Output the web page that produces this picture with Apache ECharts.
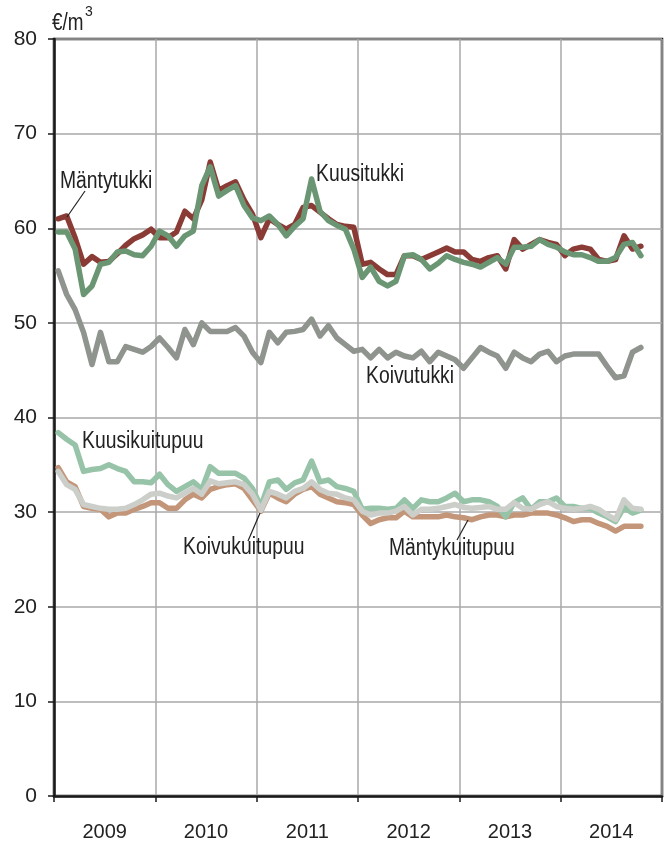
<!DOCTYPE html>
<html><head><meta charset="utf-8">
<script src="https://cdn.jsdelivr.net/npm/echarts@6/dist/echarts.min.js"></script>
<style>html,body{margin:0;padding:0;background:#fff}#c{width:667px;height:843px}</style>
</head><body><div id="c"></div>
<script>
// Years (category labels), monthly data Jan 2009 – Oct 2014
const years = ['2009','2010','2011','2012','2013','2014'];
const seriesNames = ['Mäntytukki','Kuusitukki','Koivutukki','Mäntykuitupuu','Kuusikuitupuu','Koivukuitupuu'];

const mantytukki = [61.0,61.3,59.0,56.2,57.0,56.4,56.5,57.3,58.2,58.9,59.3,59.9,
  59.0,59.0,59.6,61.8,61.0,63.0,67.0,64.0,64.5,64.9,63.0,61.5,
  59.0,61.0,60.4,59.9,60.4,62.2,62.4,61.7,61.0,60.4,60.2,60.1,
  56.2,56.4,55.7,55.1,55.1,57.1,57.1,56.7,57.1,57.5,57.9,57.5,
  57.5,56.7,56.5,56.9,57.1,55.7,58.8,57.8,58.3,58.8,58.5,58.3,
  57.1,57.8,58.0,57.8,56.7,56.5,56.7,59.2,57.8,58.1];

const kuusitukki = [59.6,59.6,57.8,53.0,53.9,56.2,56.4,57.5,57.6,57.2,57.1,58.1,
  59.7,59.2,58.1,59.2,59.7,64.5,66.5,63.4,64.0,64.5,62.4,61.1,
  60.8,61.3,60.4,59.2,60.2,61.0,65.2,61.8,60.8,60.3,59.9,57.8,
  54.8,55.9,54.4,53.9,54.4,57.1,57.2,56.7,55.7,56.3,57.1,56.7,
  56.4,56.2,55.9,56.4,56.9,56.2,58.0,58.0,58.1,58.8,58.3,58.0,
  57.5,57.2,57.2,56.9,56.5,56.5,56.9,58.3,58.5,57.1];

const koivutukki = [55.5,53.0,51.4,49.0,45.6,49.0,45.9,45.9,47.5,47.2,46.9,47.5,
  48.4,47.4,46.3,49.3,47.7,50.0,49.1,49.1,49.1,49.5,48.6,46.9,
  45.8,49.0,47.9,49.0,49.1,49.3,50.4,48.6,49.7,48.4,47.7,47.0,
  47.2,46.3,47.2,46.3,46.9,46.5,46.3,47.0,45.9,46.9,46.5,46.1,
  45.2,46.3,47.4,46.9,46.5,45.2,46.9,46.3,45.9,46.7,47.0,45.9,
  46.5,46.7,46.7,46.7,46.7,45.4,44.2,44.4,46.9,47.4];

const mantykuitupuu = [34.7,33.2,32.7,30.6,30.4,30.3,29.5,29.9,29.9,30.3,30.6,31.0,
  31.0,30.4,30.4,31.3,31.9,31.5,32.4,32.7,32.9,33.0,32.5,31.3,
  30.1,32.0,31.5,31.1,31.9,32.4,32.7,31.9,31.5,31.1,31.0,30.8,
  29.7,28.8,29.2,29.4,29.4,30.1,29.5,29.5,29.5,29.5,29.7,29.5,
  29.4,29.2,29.5,29.7,29.7,29.5,29.7,29.7,29.9,29.9,29.9,29.7,
  29.4,29.0,29.2,29.2,28.8,28.5,28.0,28.5,28.5,28.5];

const kuusikuitupuu = [38.4,37.7,37.1,34.3,34.5,34.6,35.0,34.6,34.3,33.2,33.2,33.1,
  34.0,32.9,32.2,32.7,33.2,32.4,34.8,34.1,34.1,34.1,33.6,32.5,
  30.6,33.2,33.4,32.4,33.1,33.4,35.4,33.2,33.4,32.7,32.5,32.2,
  30.3,30.4,30.4,30.3,30.4,31.3,30.4,31.3,31.1,31.1,31.5,32.0,
  31.1,31.3,31.3,31.1,30.6,29.5,31.0,31.5,30.3,31.1,31.1,31.5,
  30.6,30.6,30.4,30.4,29.9,29.5,29.0,30.5,29.9,30.2];

const koivukuitupuu = [34.3,32.9,32.4,30.8,30.6,30.4,30.3,30.3,30.4,30.8,31.3,31.9,
  32.0,31.7,31.5,32.0,32.5,31.9,33.3,33.0,33.1,33.2,32.9,31.9,
  30.2,32.2,31.9,31.5,32.2,32.5,33.2,32.4,32.0,31.9,31.5,31.3,
  30.1,29.7,29.9,29.9,30.1,30.6,29.7,30.3,30.3,30.4,30.6,30.8,
  30.5,30.4,30.5,30.6,30.3,30.3,31.0,30.4,30.3,30.8,31.1,30.6,
  30.4,30.3,30.4,30.6,30.3,29.7,29.2,31.3,30.4,30.3];

const FONT = "'Liberation Sans',Arial,sans-serif";
const TXT = '#222';

function pts(arr){ return arr.map((v,i)=>[i+0.5, v]); }

const defs = [
  {name:seriesNames[0], data:mantytukki, color:'#8b3b35'},
  {name:seriesNames[1], data:kuusitukki, color:'#6a9673'},
  {name:seriesNames[2], data:koivutukki, color:'#8f948e'},
  {name:seriesNames[3], data:mantykuitupuu, color:'#c3967a'},
  {name:seriesNames[4], data:kuusikuitupuu, color:'#97c4a8'},
  {name:seriesNames[5], data:koivukuitupuu, color:'#cbcec9'}
];

const chart = echarts.init(document.getElementById('c'), null, {renderer:'canvas'});

const labelStyle = (t,x,y)=>({type:'text', left:x, top:y, z:100, scaleX:0.84,
  style:{text:t, fill:TXT, font:"23px " + FONT}});
const leader = (x1,y1,x2,y2)=>({type:'line', z:100,
  shape:{x1:x1,y1:y1,x2:x2,y2:y2}, style:{stroke:'#222', lineWidth:1.2}});

chart.setOption({
  animation:false,
  backgroundColor:'#fff',
  grid:{left:54, right:5, top:39, bottom:47, show:true, borderColor:'#1a1a1a', borderWidth:2.5, containLabel:false},
  xAxis:[
    {type:'value', min:0, max:72, interval:12,
     axisLine:{show:true, lineStyle:{color:'#1a1a1a', width:2.5}},
     axisTick:{show:true, length:6, lineStyle:{color:'#1a1a1a', width:1.5}},
     axisLabel:{show:false},
     splitLine:{show:true, lineStyle:{color:'#a8a8a8', width:1.5}}},
    {type:'category', data:years, position:'bottom', boundaryGap:true,
     axisLine:{show:false}, axisTick:{show:false},
     axisLabel:{margin:26, color:TXT, fontFamily:FONT, fontSize:20},
     splitLine:{show:false}}
  ],
  yAxis:{type:'value', min:0, max:80, interval:10,
     axisLine:{show:true, lineStyle:{color:'#1a1a1a', width:2.5}},
     axisTick:{show:true, length:6, lineStyle:{color:'#1a1a1a', width:1.5}},
     axisLabel:{margin:17, color:TXT, fontFamily:FONT, fontSize:21},
     splitLine:{show:true, lineStyle:{color:'#a8a8a8', width:1.5}}},
  series: defs.map(d=>({
    name:d.name, type:'line', xAxisIndex:0, data:pts(d.data), showSymbol:false, symbol:'none',
    lineStyle:{color:d.color, width:5.5, join:'round', cap:'round'},
    itemStyle:{color:d.color}
  })),
  graphic:[
    {type:'text', left:52, top:12, z:100, scaleX:0.82, style:{text:'€/m', fill:TXT, font:"23px " + FONT}},
    {type:'text', left:85, top:5, z:100, style:{text:'3', fill:TXT, font:"14px " + FONT}},
    labelStyle(seriesNames[0], 60, 170),
    leader(85,191,67,217),
    labelStyle(seriesNames[1], 316, 163),
    labelStyle(seriesNames[2], 366, 365),
    labelStyle(seriesNames[4], 82, 430),
    labelStyle(seriesNames[5], 183, 536),
    leader(248,541,260,513),
    labelStyle(seriesNames[3], 389, 537),
    leader(457,540,468,520)
  ]
});
</script>
</body></html>
